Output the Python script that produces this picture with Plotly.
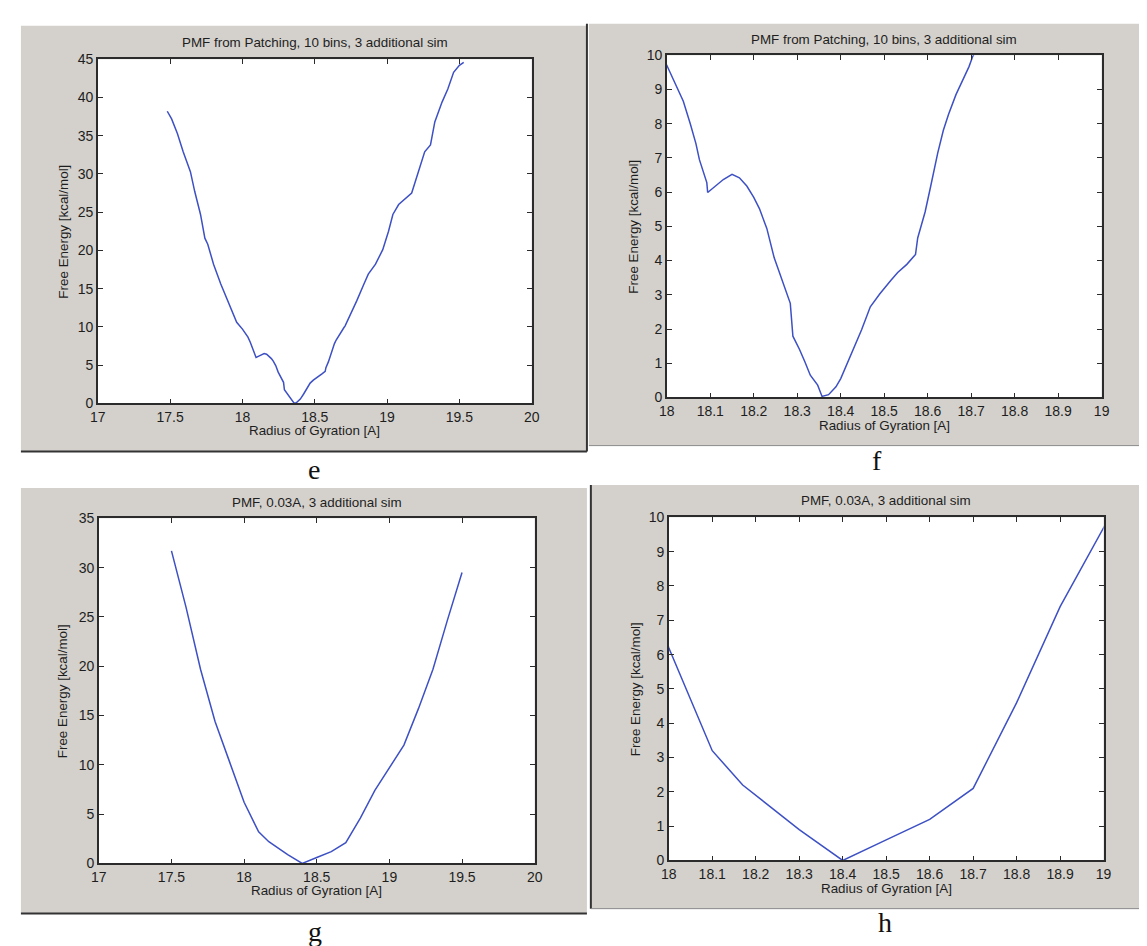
import plotly.graph_objects as go

W, H = 1147, 946

# ---- data: PMF from patching (panels e and f show the same curve) ----
rg_patch = [17.48, 17.51, 17.55, 17.59, 17.64, 17.67, 17.71, 17.74, 17.76, 17.80,
            17.85, 17.90, 17.94, 17.96, 18.0, 18.02, 18.038, 18.054, 18.067, 18.075,
            18.088, 18.092, 18.094, 18.113, 18.13, 18.15, 18.167, 18.184, 18.20, 18.213,
            18.23, 18.247, 18.26, 18.27, 18.284, 18.29, 18.305, 18.318, 18.33, 18.347,
            18.357, 18.372, 18.389, 18.40, 18.423, 18.448, 18.468, 18.49, 18.515, 18.531,
            18.552, 18.572, 18.577, 18.594, 18.607, 18.623, 18.636, 18.648, 18.665, 18.682,
            18.695, 18.703, 18.709, 18.74, 18.79, 18.84, 18.87, 18.92, 18.97, 19.01,
            19.04, 19.08, 19.13, 19.17, 19.21, 19.26, 19.30, 19.33, 19.38, 19.42,
            19.46, 19.50, 19.53]
fe_patch = [38.2, 37.2, 35.3, 32.9, 30.3, 27.7, 24.7, 21.6, 20.8, 18.2,
            15.6, 13.4, 11.5, 10.6, 9.71, 9.14, 8.66, 8.0, 7.42, 6.95,
            6.47, 6.28, 5.99, 6.18, 6.37, 6.52, 6.42, 6.18, 5.85, 5.52,
            4.94, 4.08, 3.61, 3.23, 2.75, 1.79, 1.41, 1.03, 0.65, 0.36,
            0.03, 0.08, 0.31, 0.55, 1.22, 1.98, 2.65, 3.03, 3.42, 3.65,
            3.89, 4.18, 4.66, 5.42, 6.18, 7.14, 7.81, 8.28, 8.85, 9.33,
            9.67, 9.95, 10.1, 11.3, 13.4, 15.6, 16.9, 18.2, 20.1, 22.5,
            24.7, 26.0, 26.8, 27.5, 29.9, 32.9, 33.8, 36.8, 39.4, 41.1,
            43.3, 44.2, 44.6]

# ---- data: PMF, 0.03A (panels g and h show the same curve) ----
rg_003 = [17.5, 17.6, 17.7, 17.8, 17.9, 18.0, 18.1, 18.17, 18.3, 18.4, 18.5,
          18.6, 18.7, 18.8, 18.9, 19.0, 19.1, 19.2, 19.3, 19.4, 19.5]
fe_003 = [31.7, 26.0, 19.7, 14.4, 10.3, 6.2, 3.2, 2.2, 0.9, 0.0, 0.6,
          1.2, 2.1, 4.6, 7.4, 9.65, 12.0, 15.7, 19.7, 24.7, 29.5]

title_patch = "PMF from Patching, 10 bins, 3 additional sim"
title_003 = "PMF, 0.03A, 3 additional sim"
x_title = "Radius of Gyration [A]"
y_title = "Free Energy [kcal/mol]"

# panel geometry in pixels: (gray box), (axes box)
panels = [
    dict(letter="e", gray=(5, 579, 10, 443), ax=(83, 523, 44, 394), xr=[17, 20], xd=0.5,
         yr=[0, 45], yd=5, title=title_patch, x=rg_patch, y=fe_patch,
         letter_pos=(302, 461), ytx=48, xty=422, tty=27),
    dict(letter="f", gray=(581, 1147, 8, 437), ax=(660, 1101, 40, 388), xr=[18, 19], xd=0.1,
         yr=[0, 10], yd=1, title=title_patch, x=rg_patch, y=fe_patch,
         letter_pos=(873, 452), ytx=626, xty=417, tty=24),
    dict(letter="g", gray=(5, 579, 480, 913), ax=(84, 526, 511, 862), xr=[17, 20], xd=0.5,
         yr=[0, 35], yd=5, title=title_003, x=rg_003, y=fe_003,
         letter_pos=(303, 931), ytx=48, xty=890, tty=495),
    dict(letter="h", gray=(583, 1147, 477, 908), ax=(662, 1103, 510, 859), xr=[18, 19], xd=0.1,
         yr=[0, 10], yd=1, title=title_003, x=rg_003, y=fe_003,
         letter_pos=(881, 922), ytx=629, xty=888, tty=493),
]


def fx(px):
    return px / W


def fy(py):
    return 1 - py / H


fig = go.Figure()
shapes = []
annotations = []
axis_font = dict(family="Liberation Sans, Arial, sans-serif", size=14, color="#1e1e1e")
label_font = dict(family="Liberation Sans, Arial, sans-serif", size=13.4, color="#1e1e1e")

for i, p in enumerate(panels, start=1):
    gx0, gx1, gy0, gy1 = p["gray"]
    ax0, ax1, ay0, ay1 = p["ax"]
    shapes.append(dict(type="rect", xref="paper", yref="paper", layer="below",
                       x0=fx(gx0), x1=fx(gx1), y0=fy(gy1), y1=fy(gy0),
                       fillcolor="#d4d1cc", line=dict(width=0)))
    shapes.append(dict(type="rect", xref="paper", yref="paper", layer="below",
                       x0=fx(ax0), x1=fx(ax1), y0=fy(ay1), y1=fy(ay0),
                       fillcolor="#ffffff", line=dict(width=0)))
    xa = "x" if i == 1 else f"x{i}"
    ya = "y" if i == 1 else f"y{i}"
    fig.add_trace(go.Scatter(x=p["x"], y=p["y"], mode="lines", xaxis=xa, yaxis=ya,
                             line=dict(color="#3d50c4", width=1.5), showlegend=False,
                             hoverinfo="skip"))
    common = dict(showgrid=False, zeroline=False, showline=True, linecolor="#2b2b2b",
                  linewidth=1.5, mirror="ticks", ticks="inside", ticklen=5,
                  tickcolor="#2b2b2b", tickwidth=1.3, tickfont=axis_font)
    fig.update_layout(**{
        ("xaxis" if i == 1 else f"xaxis{i}"): dict(
            domain=[fx(ax0), fx(ax1)], anchor=ya, range=p["xr"], tick0=p["xr"][0],
            dtick=p["xd"], **common),
        ("yaxis" if i == 1 else f"yaxis{i}"): dict(
            domain=[fy(ay1), fy(ay0)], anchor=xa, range=p["yr"], tick0=0,
            dtick=p["yd"], **common),
    })
    cx = (ax0 + ax1) / 2
    cy = (ay0 + ay1) / 2
    annotations.append(dict(text=p["title"], xref="paper", yref="paper", x=fx(cx),
                            y=fy(p["tty"]), showarrow=False, font=label_font,
                            xanchor="center", yanchor="middle"))
    annotations.append(dict(text=x_title, xref="paper", yref="paper", x=fx(cx),
                            y=fy(p["xty"]), showarrow=False, font=label_font,
                            xanchor="center", yanchor="middle"))
    annotations.append(dict(text=y_title, xref="paper", yref="paper", x=fx(p["ytx"]),
                            y=fy(cy), showarrow=False, font=label_font, textangle=-90,
                            xanchor="center", yanchor="middle"))
    lx, ly = p["letter_pos"]
    annotations.append(dict(text=p["letter"], xref="paper", yref="paper", x=fx(lx),
                            y=fy(ly), showarrow=False,
                            font=dict(family="Liberation Serif, Times New Roman, serif",
                                      size=28, color="#111111"),
                            xanchor="center", yanchor="middle"))


# panel frame lines
def hline(x0, x1, y, color, w):
    return dict(type="line", xref="paper", yref="paper", x0=fx(x0), x1=fx(x1),
                y0=fy(y), y1=fy(y), line=dict(color=color, width=w))


def vline(x, y0, y1, color, w):
    return dict(type="line", xref="paper", yref="paper", x0=fx(x), x1=fx(x),
                y0=fy(y0), y1=fy(y1), line=dict(color=color, width=w))


shapes += [
    hline(5, 579, 443, "#333333", 2),
    vline(579, 8, 443, "#333333", 2),
    hline(581, 1147, 437, "#8a8a8a", 1),
    hline(5, 579, 913, "#333333", 2),
    vline(583, 477, 908, "#333333", 2),
    hline(583, 1147, 908, "#8a8a8a", 1),
]

fig.update_layout(width=W, height=H, autosize=False,
                  margin=dict(l=0, r=0, t=0, b=0),
                  paper_bgcolor="#ffffff", plot_bgcolor="rgba(0,0,0,0)",
                  shapes=shapes, annotations=annotations)

fig.write_html("out.html")
